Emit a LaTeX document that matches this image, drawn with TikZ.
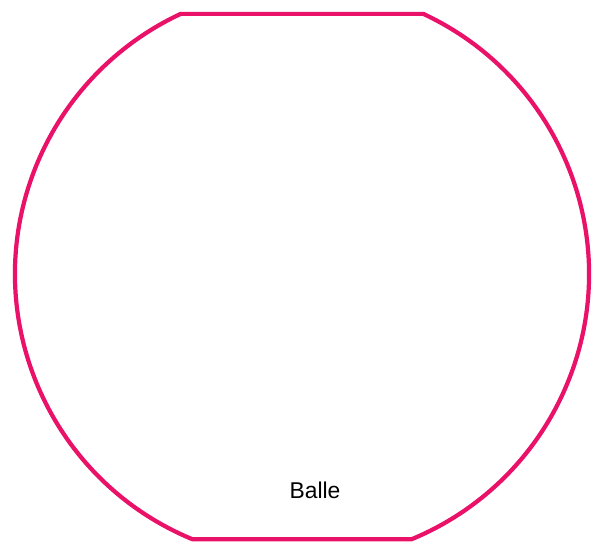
\documentclass[tikz,border=0pt]{standalone}
\usepackage{fontspec}
\setmainfont{Liberation Sans}
\usepackage{xcolor}
\usepackage{tikz}
\usetikzlibrary{positioning,calc}

\definecolor{ballepink}{RGB}{234,18,104}

\begin{document}
\begin{tikzpicture}[
    x=0.3mm, y=0.3mm,
    outline/.style={draw=ballepink, line width=3.6pt, line join=round},
    label/.style={font=\fontsize{19.5}{22}\selectfont, text=black}
]
\useasboundingbox (0,0) rectangle (593,544);

\coordinate (c) at (302,270);

% truncated ball outline
\draw[outline] ($(c)+(115:287)$) -- ($(c)+(65:287)$)
    arc[start angle=65, end angle=-67.5, radius=287]
    -- ($(c)+(247.5:287)$)
    arc[start angle=247.5, end angle=115, radius=287] -- cycle;

\node[label] (balle) at (315,54) {Balle};

\end{tikzpicture}
\end{document}
